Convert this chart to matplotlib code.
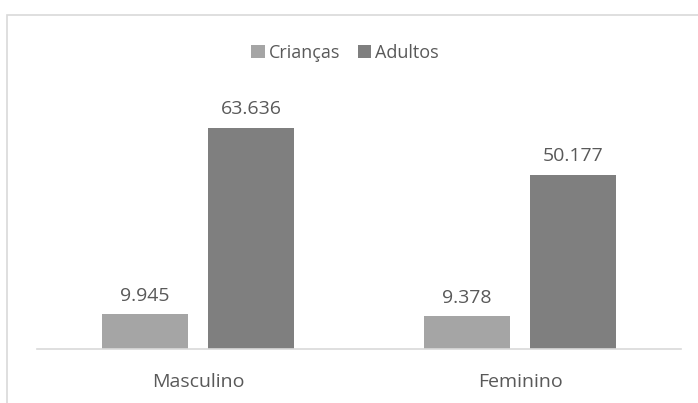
import matplotlib.pyplot as plt
from matplotlib.patches import Rectangle

categories = ["Masculino", "Feminino"]
series_names = ["Crianças", "Adultos"]
criancas = [9945, 9378]
adultos = [63636, 50177]

colors = ["#A5A5A5", "#7F7F7F"]
text_color = "#595959"

plt.rcParams['font.family'] = ['Open Sans', 'DejaVu Sans']

W, H = 698, 403
fig = plt.figure(figsize=(W / 100, H / 100), dpi=100)

# chart border (cut off at right/bottom like the screenshot)
fig.patches.append(Rectangle((7 / W, -0.2), 1.2, (H - 15) / H + 0.2, transform=fig.transFigure,
                             fill=False, edgecolor="#D9D9D9", linewidth=1.2))

left, right, bottom = 37, 681, 349
ymax = 70000
px_per_unit = 221 / 63636
top = bottom - ymax * px_per_unit
ax = fig.add_axes([left / W, 1 - bottom / H, (right - left) / W, (bottom - top) / H])

x = range(len(categories))
w = 0.267
off = 0.166
b1 = ax.bar([i - off for i in x], criancas, width=w, color=colors[0], label=series_names[0])
b2 = ax.bar([i + off for i in x], adultos, width=w, color=colors[1], label=series_names[1])

def fmt(v):
    return f"{v:,}".replace(",", ".")

for bars, vals in ((b1, criancas), (b2, adultos)):
    for rect, v in zip(bars, vals):
        ax.annotate(fmt(v), (rect.get_x() + rect.get_width() / 2, v),
                    xytext=(0, 7), textcoords="offset points", ha="center", va="bottom",
                    fontsize=14, color=text_color)

ax.set_xlim(-0.5, 1.5)
ax.set_ylim(0, ymax)
ax.set_xticks(list(x))
ax.set_xticklabels(categories, fontsize=14, color=text_color)
ax.tick_params(axis="x", length=0, pad=17)
ax.set_yticks([])
for s in ["top", "right", "left"]:
    ax.spines[s].set_visible(False)
ax.spines["bottom"].set_color("#D9D9D9")
ax.spines["bottom"].set_linewidth(1.2)

leg = fig.legend(loc="center", bbox_to_anchor=(345 / W, 1 - 53 / H), ncol=2, frameon=False,
                 handlelength=0.75, handleheight=0.75, handletextpad=0.2, columnspacing=1.0,
                 fontsize=13)
for t in leg.get_texts():
    t.set_color(text_color)

fig.savefig("out.png", dpi=100)
